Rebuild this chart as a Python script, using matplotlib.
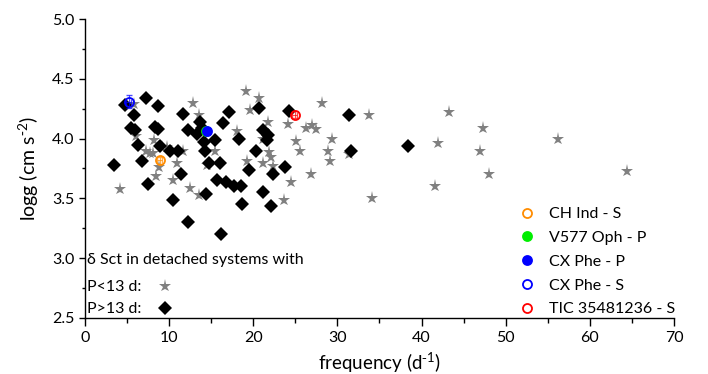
import matplotlib
matplotlib.use('Agg')
import matplotlib.pyplot as plt
from matplotlib.ticker import MultipleLocator

plt.rcParams['font.family'] = ['Lato', 'DejaVu Sans']
plt.rcParams['mathtext.default'] = 'regular'

# delta Sct stars in detached systems, P < 13 d (grey stars)
short_freq = [4.2, 5.85, 6.1, 7.3, 7.7, 8.1, 8.2, 8.8, 8.4, 9.2, 9.7, 10.5, 10.9, 11.6,
              12.5, 13.5, 12.8, 13.5, 14.5, 15.45, 18.1, 19.1, 20.7, 19.6, 21.8, 21.2,
              21.9, 22.1, 21.2, 22.3, 19.3, 24.1, 25.1, 25.5, 26.3, 27.0, 27.4, 26.9,
              24.5, 23.6, 28.2, 29.3, 28.9, 29.1, 31.4, 33.75, 34.1, 43.3, 41.9, 41.6,
              47.3, 47.0, 48.0, 56.2, 64.45]
short_logg = [3.58, 4.29, 4.02, 3.90, 3.88, 3.88, 3.99, 3.76, 3.69, 3.93, 3.93, 3.65, 3.80, 3.90,
              3.59, 3.53, 4.30, 4.20, 3.78, 3.90, 4.06, 4.40, 4.34, 4.24, 4.14, 4.00,
              3.89, 3.85, 3.80, 3.77, 3.81, 4.12, 3.98, 3.90, 4.09, 4.11, 4.08, 3.70,
              3.64, 3.49, 4.30, 4.00, 3.90, 3.81, 3.87, 4.20, 3.50, 4.22, 3.96, 3.60,
              4.09, 3.90, 3.70, 4.00, 3.73]

# P > 13 d (black diamonds)
long_freq = [3.5, 4.75, 7.25, 8.65, 5.85, 5.45, 5.95, 8.3, 8.65, 6.35, 8.9, 10.1, 11.1, 6.75,
             7.5, 10.5, 12.3, 16.2, 11.4, 11.6, 12.3, 13.7, 13.3, 13.9, 14.1, 14.3, 14.7,
             15.5, 16.0, 15.65, 16.8, 17.7, 18.6, 14.4, 16.4, 17.15, 18.3, 18.7, 19.5, 20.3,
             20.7, 21.2, 21.6, 21.8, 21.2, 22.3, 22.1, 23.8, 24.2, 31.4, 31.6, 38.4]
long_logg = [3.78, 4.28, 4.34, 4.27, 4.20, 4.09, 4.07, 4.10, 4.08, 3.95, 3.94, 3.90, 3.90, 3.81,
             3.62, 3.49, 3.30, 3.20, 3.70, 4.21, 4.07, 4.14, 4.04, 4.09, 3.97, 3.90, 3.80,
             3.99, 3.80, 3.65, 3.64, 3.60, 3.60, 3.54, 4.13, 4.22, 4.00, 3.45, 3.74, 3.90,
             4.26, 4.07, 3.99, 4.03, 3.55, 3.70, 3.44, 3.76, 4.23, 4.20, 3.90, 3.94]

# individual systems
sys_names = ['CH Ind - S', 'V577 Oph - P', 'CX Phe - P', 'CX Phe - S', 'TIC 35481236 - S']
sys_freq = [8.9, 14.4, 14.5, 5.2, 24.95]
sys_logg = [3.82, 4.06, 4.06, 4.31, 4.20]
sys_ferr = [0.3, 0.3, 0.3, 0.3, 0.3]
sys_gerr = [0.03, 0.03, 0.03, 0.055, 0.03]
sys_color = ['#FF8C00', '#00EE00', '#0000FF', '#0000FF', '#FF0000']
sys_filled = [False, True, True, False, False]

fig = plt.figure(figsize=(7.08, 3.74), dpi=100)
ax = fig.add_axes([0.120, 0.150, 0.832, 0.799])

stars, = ax.plot(short_freq, short_logg, '*', color='#808080', ms=9.5, mew=0, label='P<13 d:')
diams, = ax.plot(long_freq, long_logg, 'D', color='black', ms=7, mew=0, label='P>13 d:')

handles = []
for i in range(len(sys_names)):
    ax.errorbar(sys_freq[i], sys_logg[i], xerr=sys_ferr[i], yerr=sys_gerr[i],
                fmt='none', ecolor=sys_color[i], elinewidth=0.8, capsize=2, alpha=0.7)
    h, = ax.plot(sys_freq[i], sys_logg[i], 'o', ms=6.5, mew=1.3,
                 mec=sys_color[i], mfc=sys_color[i] if sys_filled[i] else 'none',
                 label=sys_names[i])
    handles.append(h)

ax.set_xlim(0, 70)
ax.set_ylim(2.5, 5.0)
ax.xaxis.set_major_locator(MultipleLocator(10))
ax.xaxis.set_minor_locator(MultipleLocator(5))
ax.yaxis.set_major_locator(MultipleLocator(0.5))
ax.yaxis.set_minor_locator(MultipleLocator(0.25))
ax.yaxis.set_major_formatter(matplotlib.ticker.FormatStrFormatter('%.1f'))
ax.spines['top'].set_visible(False)
ax.spines['right'].set_visible(False)
for s in ['left', 'bottom']:
    ax.spines[s].set_linewidth(1.0)
ax.tick_params(axis='both', which='major', labelsize=11.5, width=1.0, direction='out')
ax.tick_params(axis='x', which='major', length=6)
ax.tick_params(axis='x', which='minor', length=3.5, width=1.0)
ax.tick_params(axis='y', which='major', length=4)
ax.tick_params(axis='y', which='minor', length=2.5, width=1.0)

ax.set_xlabel('frequency (d$^{\\text{-}1}$)', fontsize=13.5, labelpad=4)
ax.set_ylabel('logg (cm s$^{\\text{-}2}$)', fontsize=14, labelpad=8)

leg1 = ax.legend([stars, diams], ['P<13 d:', 'P>13 d:'], loc='lower left',
                 title='\u03b4 Sct in detached systems with', alignment='left',
                 markerfirst=False, frameon=False, fontsize=11.5, title_fontsize=11.5,
                 bbox_to_anchor=(0.0, 0.0), borderaxespad=0.1, borderpad=0.0,
                 labelspacing=0.5, handlelength=1.0, handletextpad=1.0)
leg1._legend_box.sep = 9
ax.add_artist(leg1)
ax.legend(handles=handles, loc='lower right', frameon=False, fontsize=11.5,
          bbox_to_anchor=(1.005, 0.0), borderaxespad=0.1, borderpad=0.0,
          labelspacing=0.6, handlelength=1.0, handletextpad=0.9)

fig.savefig('out.png', dpi=100)
